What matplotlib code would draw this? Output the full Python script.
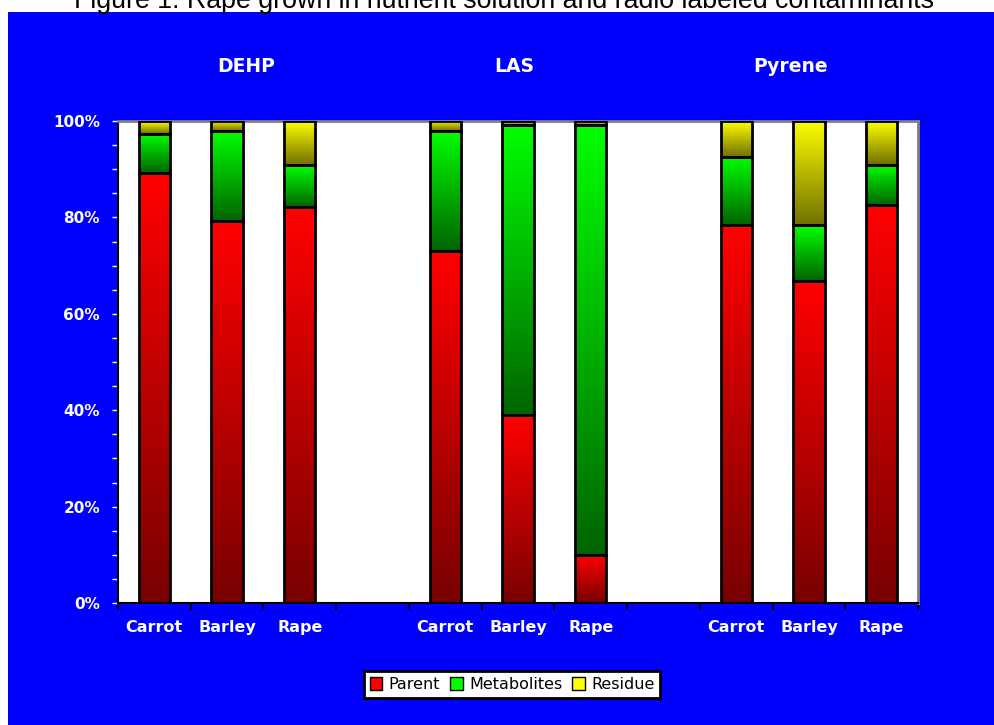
import numpy as np
import matplotlib
matplotlib.use('Agg')
import matplotlib.pyplot as plt
from matplotlib.colors import LinearSegmentedColormap
from matplotlib.patches import Rectangle, Patch

# ---------------------- data ----------------------
groups = ['DEHP', 'LAS', 'Pyrene']
plants = ['Carrot', 'Barley', 'Rape']
parent = [89.3, 79.3, 82.2, 73.1, 39.0, 10.0, 78.4, 66.8, 82.6]
metabolites = [8.1, 18.6, 8.7, 24.8, 60.2, 89.2, 14.2, 11.6, 8.3]
residue = [2.6, 2.1, 9.1, 2.1, 0.8, 0.8, 7.4, 21.6, 9.1]
yticks = [0, 20, 40, 60, 80, 100]

series = [
    ('Parent', parent, ('#780000', '#ff0000')),
    ('Metabolites', metabolites, ('#006400', '#00ff00')),
    ('Residue', residue, ('#707000', '#ffff00')),
]

W, H = 994, 725
fig = plt.figure(figsize=(W / 100, H / 100), dpi=100)
fig.patch.set_facecolor('white')
fig.add_artist(Rectangle((8 / W, 0), 1 - 8 / W, 1 - 12 / H, transform=fig.transFigure,
                         facecolor='#0000ff', edgecolor='none', zorder=0))

ax = fig.add_axes([118 / W, 1 - 603 / H, 800 / W, 482 / H])
ax.set_facecolor('white')

# positions: 3 plants per group, one empty slot between groups
xs = [g * 4 + p + 0.5 for g in range(len(groups)) for p in range(len(plants))]
width = 0.43
grad = np.linspace(0, 1, 256).reshape(-1, 1)

bottoms = np.zeros(len(xs))
for name, vals, (c0, c1) in series:
    cmap = LinearSegmentedColormap.from_list(name, [c0, c1])
    for i, x in enumerate(xs):
        ax.imshow(grad, extent=[x - width / 2, x + width / 2, bottoms[i], bottoms[i] + vals[i]],
                  origin='lower', cmap=cmap, aspect='auto', vmin=0, vmax=1, zorder=2)
    ax.bar(xs, vals, bottom=bottoms, width=width, fill=False, edgecolor='black',
           linewidth=2, zorder=3)
    bottoms += np.array(vals)

ax.set_xlim(0, 11)
ax.set_ylim(0, 100)

# axes styling
for s in ['left', 'bottom']:
    ax.spines[s].set_color('black')
    ax.spines[s].set_linewidth(1.5)
for s in ['top', 'right']:
    ax.spines[s].set_color('#808080')
    ax.spines[s].set_linewidth(2)

ax.set_yticks(yticks)
ax.set_yticklabels(['%d%%' % v for v in yticks], color='white', fontsize=11,
                   fontweight='bold', family='DejaVu Sans')
ax.set_yticks(np.arange(0, 101, 5), minor=True)
ax.tick_params(axis='y', which='both', direction='out', length=4, width=1,
               colors='white', pad=9)

ax.set_xticks(np.arange(0, 12))
ax.set_xticklabels([])
ax.set_xticks(xs, minor=True)
ax.set_xticklabels(plants * len(groups), minor=True, color='white', fontsize=11.5,
                   fontweight='bold')
ax.tick_params(axis='x', which='major', direction='out', length=5, width=1.5, color='black')
ax.tick_params(axis='x', which='minor', length=0, pad=12)

# group labels
for gx, g in zip([246, 514, 791], groups):
    fig.text(gx / W, 1 - 66 / H, g, color='white', fontsize=13.5, fontweight='bold',
             ha='center', va='center')

# title, cut at the top edge as in the original
fig.text(0.507, 1 - 8.5 / H, 'Figure 1: Rape grown in nutrient solution and radio labeled contaminants',
         family='Liberation Sans', fontsize=19.3, ha='center', va='baseline', color='black')

handles = [Patch(facecolor=c1, edgecolor='black', label=name) for name, _, (c0, c1) in series]
leg = fig.legend(handles=handles, loc='center', bbox_to_anchor=(512 / W, 1 - 684.5 / H),
                 ncol=3, fancybox=False, edgecolor='black', framealpha=1,
                 handlelength=0.8, handleheight=0.8, handletextpad=0.4, columnspacing=0.6,
                 borderpad=0.35, prop={'family': 'DejaVu Sans', 'size': 11.5})
leg.get_frame().set_linewidth(2)

fig.savefig('out.png', dpi=100, facecolor=fig.get_facecolor())
